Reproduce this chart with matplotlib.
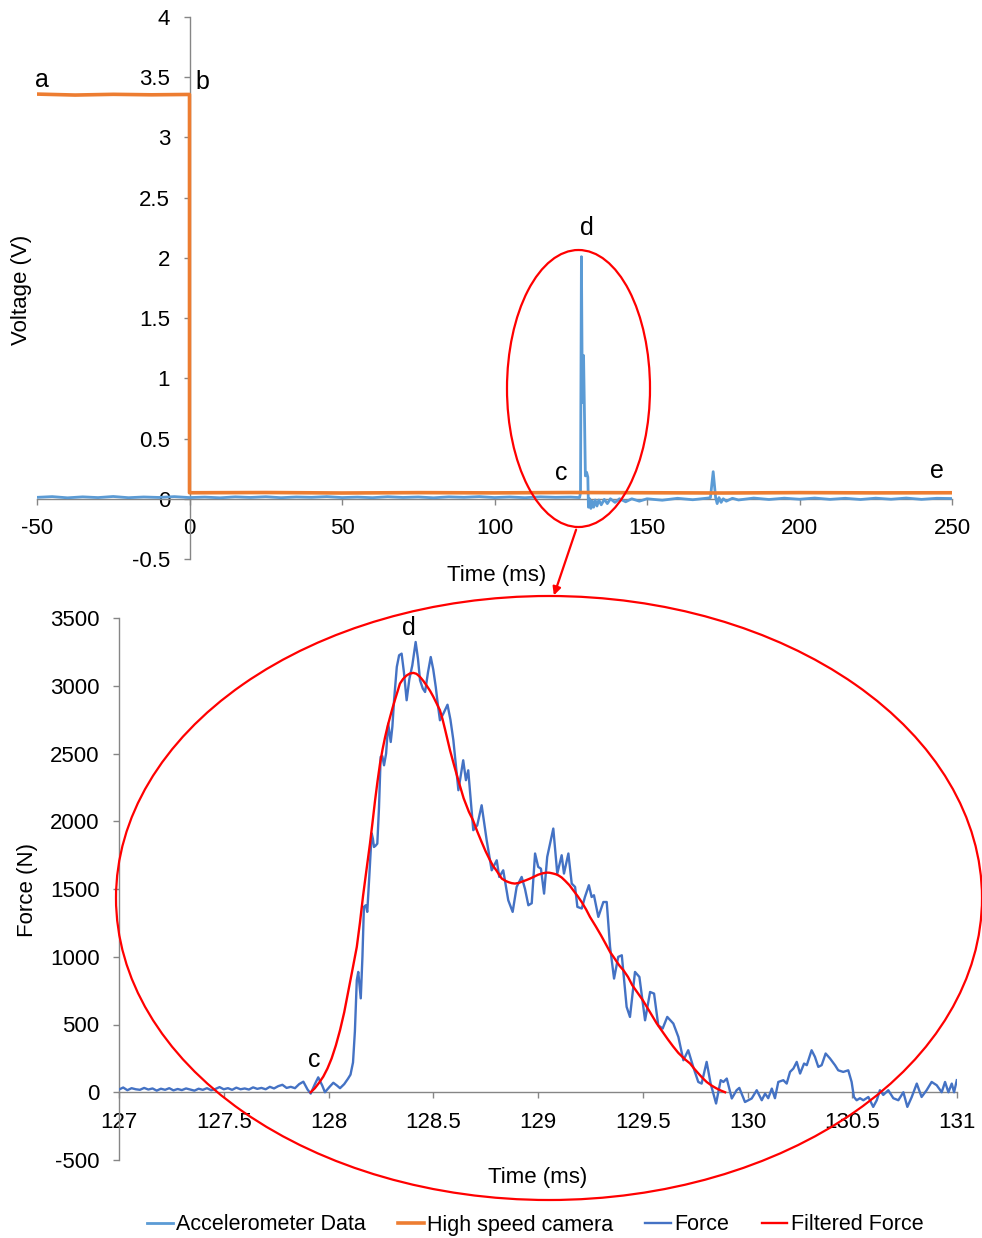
import matplotlib
matplotlib.use("Agg")
import matplotlib.pyplot as plt
from matplotlib.patches import Ellipse, FancyArrowPatch

plt.rcParams['font.family'] = ['Liberation Sans', 'DejaVu Sans']

# ---------------- data: top panel ----------------
accel_t = [-50, -45, -40, -35, -30, -25, -20, -15, -10, -5, 0, 5, 10, 15, 20, 25, 30, 35, 40,
           45, 50, 55, 60, 65, 70, 75, 80, 85, 90, 95, 100, 105, 110, 115, 120, 125, 127.9,
           128.2, 128.5, 128.8, 129.2, 129.5, 129.8, 130.2, 130.6, 130.8, 131.2, 131.6, 132.0,
           132.5, 133.0, 133.6, 134.2, 135.0, 136.0, 137.0, 138.0, 139.5, 141.0, 143.0, 145.0,
           147.5, 150, 155, 160, 165, 170, 170.8, 171.7, 172.5, 173.0, 173.6, 174.3, 175, 176,
           178, 180, 185, 190, 195, 200, 205, 210, 215, 220, 225, 230, 235, 240, 245, 250]
accel_v = [0.012, 0.018, 0.008, 0.016, 0.010, 0.019, 0.009, 0.015, 0.011, 0.018, 0.010, 0.014,
           0.008, 0.016, 0.011, 0.017, 0.009, 0.015, 0.012, 0.018, 0.010, 0.014, 0.009, 0.017,
           0.011, 0.015, 0.008, 0.016, 0.012, 0.018, 0.010, 0.015, 0.009, 0.016, 0.012, 0.014,
           0.010, 0.05, 2.01, 0.80, 1.19, 0.70, 0.19, 0.22, 0.18, -0.07, 0.0, -0.08, -0.02,
           -0.07, -0.01, -0.06, -0.01, -0.05, -0.005, -0.04, 0.0, -0.03, 0.0, -0.025, 0.0,
           -0.02, 0.0, -0.012, 0.004, -0.008, 0.006, 0.01, 0.225, 0.01, -0.04, 0.01, -0.03,
           0.0, -0.02, 0.004, -0.01, 0.006, -0.006, 0.005, -0.004, 0.006, -0.005, 0.004, -0.006,
           0.005, -0.004, 0.006, -0.005, 0.004, 0.002]

camera_t = [-50, -37.5, -25, -12.5, 0, 0, 25, 50, 75, 100, 125, 150, 175, 200, 225, 250]
camera_v = [3.36, 3.352, 3.358, 3.354, 3.357, 0.05, 0.052, 0.048, 0.051, 0.049, 0.052,
            0.05, 0.048, 0.051, 0.049, 0.05]

top_xticks = [-50, 0, 50, 100, 150, 200, 250]
top_yticks = [-0.5, 0, 0.5, 1, 1.5, 2, 2.5, 3, 3.5, 4]
top_yticklabels = ['-0.5', '0', '0.5', '1', '1.5', '2', '2.5', '3', '3.5', '4']

# ---------------- data: bottom panel ----------------
force_t = [127.00, 127.02, 127.04, 127.06, 127.08, 127.10, 127.12, 127.14, 127.16, 127.18,
           127.20, 127.22, 127.24, 127.26, 127.28, 127.30, 127.32, 127.34, 127.36, 127.38,
           127.40, 127.42, 127.44, 127.46, 127.48, 127.50, 127.52, 127.54, 127.56, 127.58,
           127.60, 127.62, 127.64, 127.66, 127.68, 127.70, 127.72, 127.74, 127.76, 127.78,
           127.80, 127.82, 127.84, 127.86, 127.88, 127.90, 127.915, 127.935, 127.951, 127.97,
           127.983, 128.005, 128.023, 128.04, 128.055, 128.075, 128.093, 128.105, 128.117,
           128.126, 128.135, 128.142, 128.154, 128.162, 128.169, 128.178, 128.185, 128.195,
           128.206, 128.212, 128.217, 128.225, 128.233, 128.241, 128.249, 128.257, 128.265,
           128.275, 128.285, 128.297, 128.305, 128.313, 128.326, 128.337, 128.349, 128.36,
           128.373, 128.386, 128.40, 128.416, 128.427, 128.437, 128.45, 128.461, 128.475,
           128.488, 128.50, 128.512, 128.522, 128.532, 128.550, 128.568, 128.582, 128.596,
           128.620, 128.643, 128.656, 128.667, 128.691, 128.710, 128.731, 128.755, 128.779,
           128.803, 128.815, 128.834, 128.858, 128.879, 128.898, 128.922, 128.938, 128.954,
           128.970, 128.986, 129.001, 129.014, 129.029, 129.044, 129.073, 129.092, 129.113,
           129.124, 129.145, 129.161, 129.177, 129.188, 129.209, 129.224, 129.243, 129.256,
           129.267, 129.288, 129.312, 129.328, 129.344, 129.363, 129.383, 129.400, 129.423,
           129.439, 129.463, 129.484, 129.511, 129.535, 129.554, 129.574, 129.595, 129.617,
           129.646, 129.670, 129.694, 129.717, 129.741, 129.765, 129.781, 129.805, 129.824,
           129.850, 129.872, 129.885, 129.901, 129.925, 129.948, 129.961, 129.988, 130.020,
           130.044, 130.068, 130.084, 130.099, 130.116, 130.131, 130.147, 130.171, 130.187,
           130.203, 130.219, 130.235, 130.251, 130.270, 130.283, 130.306, 130.322, 130.338,
           130.354, 130.373, 130.394, 130.418, 130.433, 130.457, 130.481, 130.497, 130.508,
           130.521, 130.537, 130.553, 130.577, 130.600, 130.617, 130.632, 130.648, 130.672,
           130.696, 130.720, 130.744, 130.763, 130.784, 130.808, 130.831, 130.855, 130.879,
           130.903, 130.927, 130.943, 130.959, 130.975, 130.986, 130.999]
force_n = [20, 35, 15, 30, 22, 18, 32, 20, 28, 12,
           26, 18, 30, 14, 24, 16, 28, 20, 12, 26,
           18, 30, 15, 24, 38, 22, 30, 18, 34, 22,
           28, 20, 36, 25, 32, 22, 40, 28, 45, 55,
           32, 40, 30, 60, 78, 20, -10, 60, 110, 50,
           0, 40, 70, 50, 30, 60, 100, 130, 220,
           450, 826, 888, 693, 1000, 1368, 1380, 1331, 1600,
           1911, 1870, 1810, 1820, 1835, 2100, 2475, 2480, 2413,
           2500, 2721, 2585, 2700, 2893, 3139, 3225, 3237, 3100,
           2893, 3050, 3150, 3323, 3200, 3040, 2980, 2954, 3100,
           3212, 3120, 2991, 2860, 2745, 2800, 2860, 2750, 2598,
           2229, 2450, 2303, 2376, 1934, 1970, 2118, 1860, 1638,
           1712, 1589, 1638, 1417, 1331, 1515, 1589, 1500, 1380,
           1395, 1762, 1663, 1650, 1466, 1737, 1946, 1614, 1749,
           1614, 1762, 1540, 1515, 1368, 1356, 1441, 1528, 1441,
           1454, 1294, 1404, 1404, 1072, 839, 999, 1011, 630,
           556, 888, 851, 531, 740, 728, 494, 470, 556,
           507, 408, 236, 310, 187, 76, 64, 224, 64,
           -83, 89, 76, 101, -46, 15, 32, -72, -46,
           15, -59, -10, -44, 27, -44, 76, 89, 64,
           150, 175, 224, 138, 212, 200, 310, 261, 187,
           200, 286, 249, 199, 162, 150, 162, 76, -35,
           -59, -44, -59, -35, -108, -59, 15, -20, 15,
           -44, -59, 0, -108, -35, 64, -35, 15, 76,
           52, 0, 76, 0, 64, 0, 89]

filt_t = [127.915, 127.935, 127.955, 127.975, 127.995, 128.015, 128.035, 128.055, 128.075,
          128.095, 128.115, 128.135, 128.15, 128.165, 128.182, 128.198, 128.21, 128.222,
          128.234, 128.246, 128.258, 128.270, 128.282, 128.294, 128.306, 128.318, 128.33,
          128.341, 128.356, 128.372, 128.388, 128.405, 128.42, 128.437, 128.453, 128.469,
          128.485, 128.50, 128.516, 128.532, 128.544, 128.556, 128.568, 128.580, 128.60,
          128.62, 128.645, 128.67, 128.69, 128.71, 128.73, 128.75, 128.771, 128.785, 128.80,
          128.815, 128.827, 128.845, 128.86, 128.875, 128.890, 128.908, 128.925, 128.943,
          128.962, 128.98, 129.00, 129.02, 129.041, 129.055, 129.07, 129.085, 129.097,
          129.113, 129.13, 129.15, 129.168, 129.19, 129.21, 129.23, 129.248, 129.275, 129.30,
          129.322, 129.344, 129.36, 129.375, 129.39, 129.408, 129.43, 129.45, 129.475, 129.50,
          129.535, 129.567, 129.595, 129.62, 129.645, 129.67, 129.70, 129.726, 129.745,
          129.765, 129.785, 129.805, 129.828, 129.85, 129.872, 129.893]
filt_n = [0, 30, 70, 115, 175, 250, 345, 458, 590,
          750, 910, 1072, 1250, 1450, 1650, 1835, 1990, 2150,
          2295, 2426, 2530, 2620, 2700, 2770, 2838, 2900, 2960,
          3016, 3050, 3075, 3090, 3095, 3088, 3065, 3035, 3000,
          2962, 2920, 2870, 2819, 2755, 2680, 2602, 2524, 2410,
          2300, 2170, 2070, 2007, 1925, 1850, 1778, 1712, 1672, 1640,
          1605, 1577, 1560, 1550, 1543, 1540, 1545, 1555, 1565,
          1577, 1590, 1605, 1615, 1621, 1620, 1615, 1609, 1601,
          1585, 1560, 1528, 1491, 1446, 1400, 1348, 1294, 1226, 1160,
          1098, 1035, 1000, 965, 932, 900, 850, 790, 735, 680,
          590, 507, 445, 390, 338, 290, 245, 212, 175,
          140, 106, 76, 50, 30, 13, 0]

bot_xticks = [127, 127.5, 128, 128.5, 129, 129.5, 130, 130.5, 131]
bot_xticklabels = ['127', '127.5', '128', '128.5', '129', '129.5', '130', '130.5', '131']
bot_yticks = [-500, 0, 500, 1000, 1500, 2000, 2500, 3000, 3500]

# ---------------- figure ----------------
W, H = 982, 1238
fig = plt.figure(figsize=(W / 100, H / 100), dpi=100)

def fx(px):
    return px / W

def fy(py):
    return 1 - py / H

GRAY = '#868686'
C_ACC = '#5B9BD5'
C_CAM = '#ED7D31'
C_FORCE = '#4472C4'
C_FILT = '#FF0000'
TFS = 16

ax1 = fig.add_axes([fx(37), fy(559), fx(952) - fx(37), fy(17) - fy(559)])
ax2 = fig.add_axes([fx(119), fy(1160), fx(957) - fx(119), fy(618) - fy(1160)])

# top panel
l_acc, = ax1.plot(accel_t, accel_v, color=C_ACC, lw=2.0, zorder=3, label='Accelerometer Data',
                  solid_joinstyle='round')
l_cam, = ax1.plot(camera_t, camera_v, color=C_CAM, lw=2.6, zorder=3, label='High speed camera')
ax1.set_xlim(-50, 250)
ax1.set_ylim(-0.5, 4)
ax1.set_xticks(top_xticks)
ax1.set_xticklabels([str(v) for v in top_xticks])
ax1.set_yticks(top_yticks)
ax1.set_yticklabels(top_yticklabels)
ax1.spines['left'].set_position(('data', 0))
ax1.spines['bottom'].set_position(('data', 0))

# bottom panel
l_f, = ax2.plot(force_t, force_n, color=C_FORCE, lw=1.7, zorder=3, label='Force',
                solid_joinstyle='round')
l_ff, = ax2.plot(filt_t, filt_n, color=C_FILT, lw=1.7, zorder=4, label='Filtered Force',
                 solid_joinstyle='round')
ax2.set_xlim(127, 131)
ax2.set_ylim(-500, 3500)
ax2.set_xticks(bot_xticks)
ax2.set_xticklabels(bot_xticklabels)
ax2.set_yticks(bot_yticks)
ax2.set_yticklabels([str(v) for v in bot_yticks])
ax2.spines['bottom'].set_position(('data', 0))

for ax in (ax1, ax2):
    ax.patch.set_visible(False)
    for s in ('top', 'right'):
        ax.spines[s].set_visible(False)
    for s in ('left', 'bottom'):
        ax.spines[s].set_color(GRAY)
        ax.spines[s].set_linewidth(1.0)
    ax.tick_params(axis='both', direction='out', length=4, width=1, color=GRAY,
                   labelsize=TFS, labelcolor='black', pad=10)

# axis labels
fig.text(fx(497), fy(576), 'Time (ms)', ha='center', va='center', fontsize=TFS)
fig.text(fx(22), fy(290), 'Voltage (V)', ha='center', va='center', rotation=90, fontsize=TFS)
fig.text(fx(538), fy(1178), 'Time (ms)', ha='center', va='center', fontsize=TFS)
fig.text(fx(27), fy(890), 'Force (N)', ha='center', va='center', rotation=90, fontsize=TFS)

# letters
LFS = 18
ax1.text(-48.4, 3.48, 'a', fontsize=LFS, ha='center', va='center')
ax1.text(4.2, 3.46, 'b', fontsize=LFS, ha='center', va='center')
ax1.text(121.8, 0.21, 'c', fontsize=LFS, ha='center', va='center')
ax1.text(130.3, 2.25, 'd', fontsize=LFS, ha='center', va='center')
ax1.text(244.9, 0.23, 'e', fontsize=LFS, ha='center', va='center')
ax2.text(128.384, 3424, 'd', fontsize=LFS, ha='center', va='center')
ax2.text(127.93, 236, 'c', fontsize=LFS, ha='center', va='center')

# ellipses and arrow
e1 = Ellipse((fx(578.5), fy(388.5)), fx(143), 277 / H, transform=fig.transFigure,
             fill=False, edgecolor=C_FILT, lw=1.6, zorder=5)
e2 = Ellipse((fx(549), fy(898)), fx(866), 604 / H, transform=fig.transFigure,
             fill=False, edgecolor=C_FILT, lw=1.6, zorder=5)
fig.add_artist(e1)
fig.add_artist(e2)
arr = FancyArrowPatch((fx(577), fy(527)), (fx(553), fy(598)), transform=fig.transFigure,
                      arrowstyle='-|>', mutation_scale=12, color=C_FILT, lw=1.6)
fig.add_artist(arr)

# legend
fig.legend([l_acc, l_cam, l_f, l_ff],
           ['Accelerometer Data', 'High speed camera', 'Force', 'Filtered Force'],
           loc='center', bbox_to_anchor=(fx(535), fy(1225)), ncol=4, frameon=False,
           fontsize=15.5, handlelength=1.2, handletextpad=0.15, columnspacing=1.5)

fig.savefig('out.png', dpi=100)
